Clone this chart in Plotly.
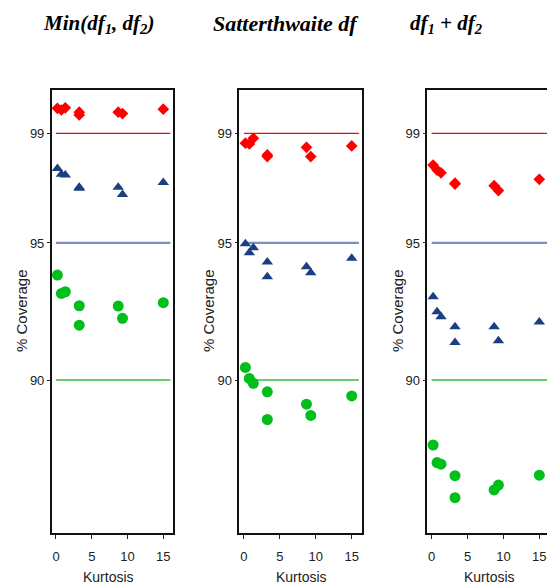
import plotly.graph_objects as go

# ---------------- data ----------------
panel_titles = ["<b><i>Min(df<sub>1</sub>, df<sub>2</sub>)</i></b>",
                "<b><i>Satterthwaite df</i></b>",
                "<b><i>df<sub>1</sub> + df<sub>2</sub></i></b>"]

kurtosis = [0.2, 0.75, 1.3, 3.25, 3.25, 8.7, 9.3, 15.0]

# nominal coverage levels (reference lines)
nominal = [99, 95, 90]

# panel 1: Min(df1, df2)
min_99 = [99.91, 99.85, 99.93, 99.77, 99.67, 99.77, 99.72, 99.88]
min_95 = [97.72, 97.51, 97.48, 97.03, 97.00, 97.03, 96.77, 97.21]
min_90 = [93.83, 93.16, 93.22, 92.71, 92.00, 92.70, 92.25, 92.82]

# panel 2: Satterthwaite df
sat_99 = [98.64, 98.61, 98.82, 98.21, 98.15, 98.49, 98.15, 98.54]
sat_95 = [94.97, 94.64, 94.83, 94.31, 93.77, 94.13, 93.91, 94.44]
sat_90 = [90.46, 90.06, 89.88, 89.57, 88.56, 89.12, 88.71, 89.42]

# panel 3: df1 + df2
sum_99 = [97.84, 97.66, 97.56, 97.18, 97.15, 97.09, 96.91, 97.32]
sum_95 = [93.04, 92.49, 92.31, 91.94, 91.37, 91.94, 91.43, 92.12]
sum_90 = [87.63, 86.99, 86.93, 86.51, 85.71, 85.99, 86.17, 86.53]

y_ticks = [90, 95, 99]
x_ticks = [0, 5, 10, 15]
y_title = "% Coverage"
x_title = "Kurtosis"

# ---------------- layout geometry ----------------
W, H = 547, 586
panels = [
    dict(x0=51.7, x1=173.3, xr=[-0.60, 16.40], y99=min_99, y95=min_95, y90=min_90,
         line_end=16, title_x=98, title_size=21, ylab_x=21, xlab_x=108, right=True),
    dict(x0=239.3, x1=361.7, xr=[-0.65, 16.39], y99=sat_99, y95=sat_95, y90=sat_90,
         line_end=16, title_x=286, title_size=22, ylab_x=208, xlab_x=301, right=True),
    dict(x0=427.3, x1=547.0, xr=[-0.61, 16.07], y99=sum_99, y95=sum_95, y90=sum_90,
         line_end=17, title_x=446, title_size=21, ylab_x=397, xlab_x=489, right=False),
]
y_top_px, y_bot_px = 90, 533
y_range = [84.42, 100.58]

RED = "#ff0000"
BLUE = "#1b3f80"
GREEN = "#00bf1a"
line_cols = {99: "#e01010", 95: "#7d91bf", 90: "#6acb6a"}
line_w = {99: 1.3, 95: 2.2, 90: 2.0}
tick_font = dict(family="Arial, Liberation Sans", size=13, color="#222")

fig = go.Figure()
layout = dict(width=W, height=H, margin=dict(l=0, r=0, t=0, b=0),
              paper_bgcolor="white", plot_bgcolor="white", showlegend=False)
annotations = []

for i, p in enumerate(panels):
    n = "" if i == 0 else str(i + 1)
    xa, ya = "x" + n, "y" + n
    # reference lines
    for lvl in nominal:
        fig.add_trace(go.Scatter(x=[0, p["line_end"]], y=[lvl, lvl], mode="lines",
                                 line=dict(color=line_cols[lvl], width=line_w[lvl]),
                                 xaxis=xa, yaxis=ya, hoverinfo="skip"))
    fig.add_trace(go.Scatter(x=kurtosis, y=p["y99"], mode="markers",
                             marker=dict(symbol="diamond", size=9, color=RED),
                             xaxis=xa, yaxis=ya, cliponaxis=False))
    fig.add_trace(go.Scatter(x=kurtosis, y=p["y95"], mode="markers",
                             marker=dict(symbol="triangle-up", size=10, color=BLUE),
                             xaxis=xa, yaxis=ya, cliponaxis=False))
    fig.add_trace(go.Scatter(x=kurtosis, y=p["y90"], mode="markers",
                             marker=dict(symbol="circle", size=11, color=GREEN),
                             xaxis=xa, yaxis=ya, cliponaxis=False))

    layout["xaxis" + n] = dict(domain=[p["x0"] / W, p["x1"] / W], range=p["xr"],
                               anchor=ya, tickvals=x_ticks, ticks="outside", ticklen=4,
                               tickcolor="#222", showgrid=False, zeroline=False,
                               showline=True, linecolor="#111", linewidth=1.5,
                               mirror=True, tickfont=tick_font, fixedrange=True,
                               ticklabelstandoff=7)
    layout["yaxis" + n] = dict(domain=[1 - y_bot_px / H, 1 - y_top_px / H], range=y_range,
                               anchor=xa, tickvals=y_ticks, ticks="outside", ticklen=3,
                               tickcolor="#222", showgrid=False, zeroline=False,
                               showline=True, linecolor="#111", linewidth=1.5,
                               mirror=p["right"], tickfont=tick_font, fixedrange=True)
    annotations.append(dict(text=panel_titles[i], x=p["title_x"] / W, y=1 - 24 / H,
                            xref="paper", yref="paper", showarrow=False,
                            xanchor="center", yanchor="middle",
                            font=dict(family="Liberation Serif, Times New Roman, serif",
                                      size=p["title_size"], color="black")))
    annotations.append(dict(text=y_title, x=p["ylab_x"] / W, y=1 - 311 / H,
                            xref="paper", yref="paper", showarrow=False, textangle=-90,
                            xanchor="center", yanchor="middle",
                            font=dict(family="Arial, Liberation Sans", size=15, color="#222")))
    annotations.append(dict(text=x_title, x=p["xlab_x"] / W, y=1 - 577 / H,
                            xref="paper", yref="paper", showarrow=False,
                            xanchor="center", yanchor="middle",
                            font=dict(family="Arial, Liberation Sans", size=14, color="#222")))

layout["annotations"] = annotations
fig.update_layout(**layout)
fig.write_html("out.html")
